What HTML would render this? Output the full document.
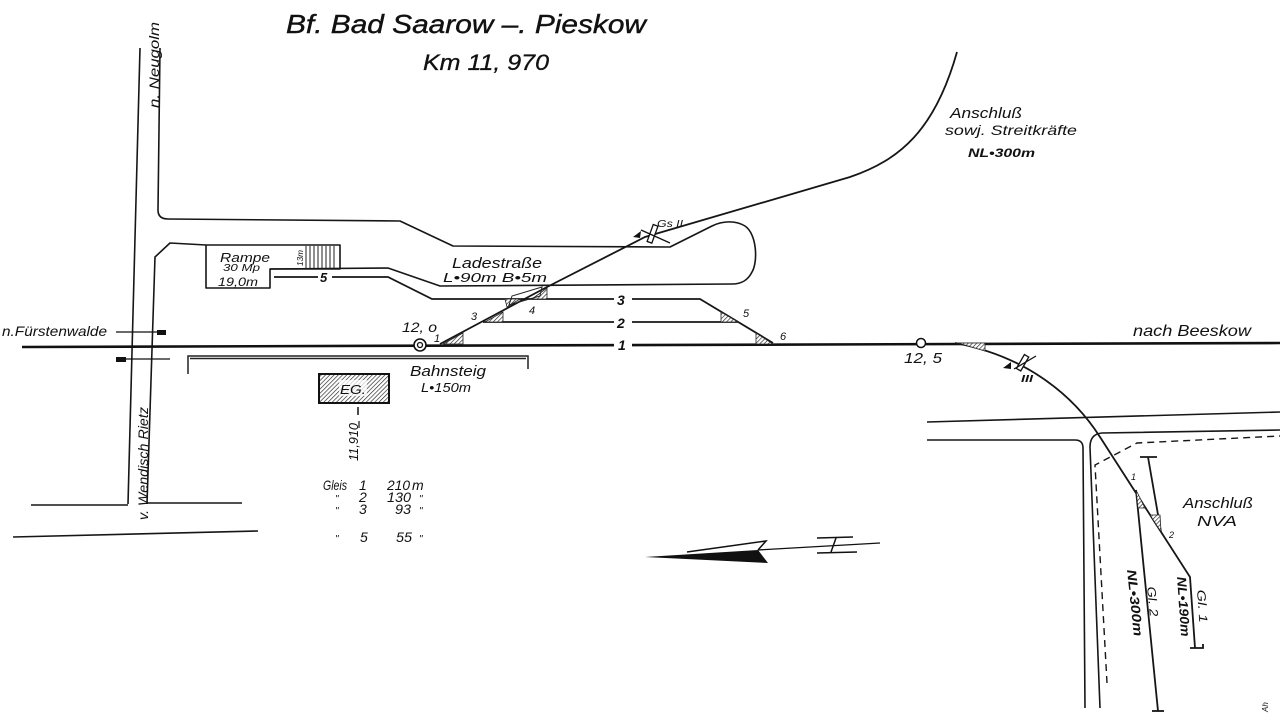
<!DOCTYPE html>
<html>
<head>
<meta charset="utf-8">
<style>
html,body{margin:0;padding:0;background:#fff;}
svg{display:block;}
text{font-family:"Liberation Sans",sans-serif;font-style:italic;fill:#111;}
</style>
</head>
<body>
<svg width="1280" height="719" viewBox="0 0 1280 719" xmlns="http://www.w3.org/2000/svg">
<defs>
<pattern id="h" width="3" height="3" patternUnits="userSpaceOnUse" patternTransform="rotate(45)">
<rect width="3" height="3" fill="#fff"/>
<line x1="0" y1="0" x2="0" y2="3" stroke="#222" stroke-width="1.3"/>
</pattern>
</defs>
<rect width="1280" height="719" fill="#fff"/>

<!-- Title -->
<text x="286" y="33" font-size="26" textLength="360" lengthAdjust="spacingAndGlyphs" stroke="#111" stroke-width="0.4">Bf. Bad Saarow –. Pieskow</text>
<text x="423" y="70" font-size="22" textLength="126" lengthAdjust="spacingAndGlyphs" stroke="#111" stroke-width="0.3">Km  11, 970</text>

<g fill="none" stroke="#161616" stroke-width="1.6" stroke-linejoin="round">
<path d="M140,48 L128,504"/>
<path d="M160,48 L158,210 Q158,219 168,219 L400,221 L453,246 L670,247 L712,226 C722,221 735,220 745,226 C757,234 758,262 752,272 C748,280 742,284 732,284 L440,286 L388,268 L270,269"/>
<path d="M147,504 L155,257 L170,243 L206,245"/>
<path d="M31,505 L128,505"/>
<path d="M147,503 L242,503"/>
<path d="M13,537 L258,531"/>
<path d="M206,245 L340,245 L340,269 L270,269 L270,288 L206,288 Z"/>
</g>
<g stroke="#222" stroke-width="1">
<line x1="306" y1="246" x2="306" y2="268"/><line x1="310" y1="246" x2="310" y2="268"/>
<line x1="314" y1="246" x2="314" y2="268"/><line x1="318" y1="246" x2="318" y2="268"/>
<line x1="322" y1="246" x2="322" y2="268"/><line x1="326" y1="246" x2="326" y2="268"/>
<line x1="330" y1="246" x2="330" y2="268"/><line x1="334" y1="246" x2="334" y2="268"/>
</g>

<path d="M22,347 L1280,343" stroke="#111" stroke-width="2.6" fill="none"/>

<g fill="none" stroke="#161616" stroke-width="1.8">
<path d="M274,277 L388,277 L432,299 L700,299 L773,343"/>
<path d="M483,322 L738,322"/>
<path d="M440,344 L547,287 L645,237 L850,177 C900,160 935,130 957,52"/>
<path d="M955,343 C1020,355 1070,390 1100,437 L1190,577 L1195,648"/>
<path d="M1190,648 L1203,648 L1203,644"/>
<path d="M1136,490 L1158,711"/>
<path d="M1152,711 L1164,711"/>
<path d="M1148,457 L1161,532"/>
<path d="M1140,457 L1157,457"/>
</g>

<g fill="none" stroke="#161616" stroke-width="1.6">
<path d="M927,422 L1280,412"/>
<path d="M927,440 L1075,440 Q1083,440 1083,448 L1085,708"/>
<path d="M1100,708 L1090,447 Q1090,434 1102,433 L1280,430"/>
<path d="M1107,683 L1095,465 L1137,443 L1280,436" stroke-dasharray="7,5" stroke-width="1.4"/>
</g>

<g fill="url(#h)" stroke="#222" stroke-width="0.8">
<polygon points="443,344 463,344 463,333"/>
<polygon points="485,322 503,322 503,312"/>
<polygon points="505,299 520,299 507,307"/>
<polygon points="532,299 547,299 547,288"/>
<polygon points="721,312 721,322 738,322"/>
<polygon points="756,333 756,344 773,344"/>
<polygon points="958,343 985,343 985,351"/>
<polygon points="1136,490 1138,508 1145,508"/>
<polygon points="1150,515 1160,515 1161,532"/>
</g>
<path d="M509,305 L512,296 L542,287 L540,296 Z" fill="none" stroke="#222" stroke-width="1"/>

<rect x="614" y="292" width="18" height="14" fill="#fff"/>
<text x="617" y="305" font-size="14" font-style="normal" font-weight="bold">3</text>
<rect x="614" y="315" width="18" height="14" fill="#fff"/>
<text x="617" y="328" font-size="14" font-style="normal" font-weight="bold">2</text>
<rect x="614" y="337" width="18" height="14" fill="#fff"/>
<text x="618" y="350" font-size="14" font-style="normal" font-weight="bold">1</text>
<rect x="318" y="271" width="14" height="12" fill="#fff"/>
<text x="320" y="282" font-size="13" font-style="normal" font-weight="bold">5</text>

<text x="434" y="342" font-size="11">1</text>
<text x="471" y="320" font-size="11">3</text>
<text x="529" y="314" font-size="11">4</text>
<text x="743" y="317" font-size="11">5</text>
<text x="780" y="340" font-size="11">6</text>
<text x="1131" y="480" font-size="9">1</text>
<text x="1169" y="538" font-size="9">2</text>

<circle cx="420" cy="345" r="6" fill="#fff" stroke="#111" stroke-width="1.6"/>
<circle cx="420" cy="345" r="2.5" fill="none" stroke="#111" stroke-width="1.3"/>
<text x="402" y="332" font-size="14" textLength="35" lengthAdjust="spacingAndGlyphs">12, o</text>
<circle cx="921" cy="343" r="4.5" fill="#fff" stroke="#111" stroke-width="1.5"/>
<text x="904" y="363" font-size="15" textLength="38" lengthAdjust="spacingAndGlyphs">12, 5</text>

<g stroke="#111" stroke-width="1.3" fill="#fff">
<rect x="650" y="225" width="5" height="18" transform="rotate(20 653 234)"/>
<line x1="641" y1="230" x2="670" y2="243"/>
<rect x="1020" y="355" width="5" height="16" transform="rotate(30 1023 363)"/>
<line x1="1014" y1="369" x2="1036" y2="356"/>
</g>
<polygon points="633,237 641,231 640,238" fill="#111"/>
<polygon points="1003,368 1011,362 1011,369" fill="#111"/>
<text x="657" y="227" font-size="10" font-style="normal" textLength="26" lengthAdjust="spacingAndGlyphs">Gs II</text>
<text x="1021" y="382" font-size="10" font-style="normal" font-weight="bold" textLength="12" lengthAdjust="spacingAndGlyphs">III</text>

<g fill="none" stroke="#222" stroke-width="1.5">
<path d="M188,374 L188,356 L528,356 L528,369"/>
<path d="M190,358.5 L526,358.5"/>
</g>
<text x="410" y="376" font-size="15" textLength="76" lengthAdjust="spacingAndGlyphs">Bahnsteig</text>
<text x="421" y="392" font-size="13" textLength="50" lengthAdjust="spacingAndGlyphs">L•150m</text>

<rect x="319" y="374" width="70" height="29" fill="url(#h)" stroke="#111" stroke-width="2"/>
<rect x="339" y="380" width="28" height="16" fill="#fff" opacity="0.75"/>
<text x="340" y="394" font-size="13" textLength="26" lengthAdjust="spacingAndGlyphs">EG.</text>
<line x1="358" y1="407" x2="358" y2="415" stroke="#111" stroke-width="1.5"/>
<text transform="translate(358,461) rotate(-90)" font-size="13" font-style="normal" textLength="38" lengthAdjust="spacingAndGlyphs">11,910</text>
<line x1="359" y1="421" x2="359" y2="428" stroke="#111" stroke-width="1.2"/>

<g font-size="14">
<text x="323" y="490" textLength="24" lengthAdjust="spacingAndGlyphs">Gleis</text>
<text x="359" y="490">1</text>
<text x="387" y="490" textLength="23" lengthAdjust="spacingAndGlyphs">210</text>
<text x="412" y="490">m</text>
<text x="335" y="502" font-size="10">"</text>
<text x="359" y="502">2</text>
<text x="387" y="502" textLength="24" lengthAdjust="spacingAndGlyphs">130</text>
<text x="419" y="502" font-size="10">"</text>
<text x="335" y="514" font-size="10">"</text>
<text x="359" y="514">3</text>
<text x="395" y="514" textLength="16" lengthAdjust="spacingAndGlyphs">93</text>
<text x="419" y="514" font-size="10">"</text>
<text x="335" y="542" font-size="10">"</text>
<text x="360" y="542">5</text>
<text x="396" y="542" textLength="16" lengthAdjust="spacingAndGlyphs">55</text>
<text x="419" y="542" font-size="10">"</text>
</g>

<text x="220" y="262" font-size="13" textLength="50" lengthAdjust="spacingAndGlyphs">Rampe</text>
<text x="223" y="271" font-size="10" textLength="37" lengthAdjust="spacingAndGlyphs">30 Mp</text>
<text x="218" y="286" font-size="12" textLength="40" lengthAdjust="spacingAndGlyphs">19,0m</text>
<text transform="translate(303,266) rotate(-90)" font-size="8" textLength="16" lengthAdjust="spacingAndGlyphs">13m</text>

<text x="452" y="268" font-size="15" textLength="90" lengthAdjust="spacingAndGlyphs">Ladestraße</text>
<text x="443" y="282" font-size="13" textLength="104" lengthAdjust="spacingAndGlyphs">L•90m  B•5m</text>

<text transform="translate(159,108) rotate(-90)" font-size="14" textLength="86" lengthAdjust="spacingAndGlyphs">n. Neugolm</text>
<text transform="translate(148,520) rotate(-90)" font-size="14" textLength="113" lengthAdjust="spacingAndGlyphs">v. Wendisch Rietz</text>

<text x="2" y="336" font-size="14" textLength="105" lengthAdjust="spacingAndGlyphs">n.Fürstenwalde</text>
<line x1="116" y1="332" x2="166" y2="332" stroke="#111" stroke-width="1.3"/>
<rect x="157" y="330" width="9" height="5" fill="#111"/>
<line x1="116" y1="359" x2="170" y2="359" stroke="#111" stroke-width="1.3"/>
<rect x="116" y="357" width="10" height="5" fill="#111"/>

<text x="1133" y="336" font-size="16" textLength="118" lengthAdjust="spacingAndGlyphs">nach  Beeskow</text>
<text x="950" y="118" font-size="15" textLength="72" lengthAdjust="spacingAndGlyphs">Anschluß</text>
<text x="945" y="135" font-size="14" textLength="132" lengthAdjust="spacingAndGlyphs">sowj. Streitkräfte</text>
<text x="968" y="157" font-size="12" textLength="67" lengthAdjust="spacingAndGlyphs" font-weight="bold">NL•300m</text>

<text x="1183" y="508" font-size="15" textLength="70" lengthAdjust="spacingAndGlyphs">Anschluß</text>
<text x="1197" y="526" font-size="15" textLength="40" lengthAdjust="spacingAndGlyphs">NVA</text>

<text transform="translate(1127,570) rotate(84)" font-size="13" font-weight="bold" textLength="67" lengthAdjust="spacingAndGlyphs">NL•300m</text>
<text transform="translate(1147,587) rotate(84)" font-size="12" textLength="30" lengthAdjust="spacingAndGlyphs">Gl. 2</text>
<text transform="translate(1177,577) rotate(86)" font-size="13" font-weight="bold" textLength="60" lengthAdjust="spacingAndGlyphs">NL•190m</text>
<text transform="translate(1197,590) rotate(86)" font-size="12" textLength="33" lengthAdjust="spacingAndGlyphs">Gl. 1</text>

<text transform="translate(1268,712) rotate(-90)" font-size="8">Ah</text>

<polygon points="645,557 758,550 768,563" fill="#111"/>
<path d="M687,552 L766,541 L758,550" fill="none" stroke="#111" stroke-width="1.5"/>
<path d="M758,550 L880,543" fill="none" stroke="#111" stroke-width="1.3"/>
<path d="M817,538 L853,537 M817,553 L857,552 M831,552 L836,538" fill="none" stroke="#111" stroke-width="1.5"/>
</svg>
</body>
</html>
